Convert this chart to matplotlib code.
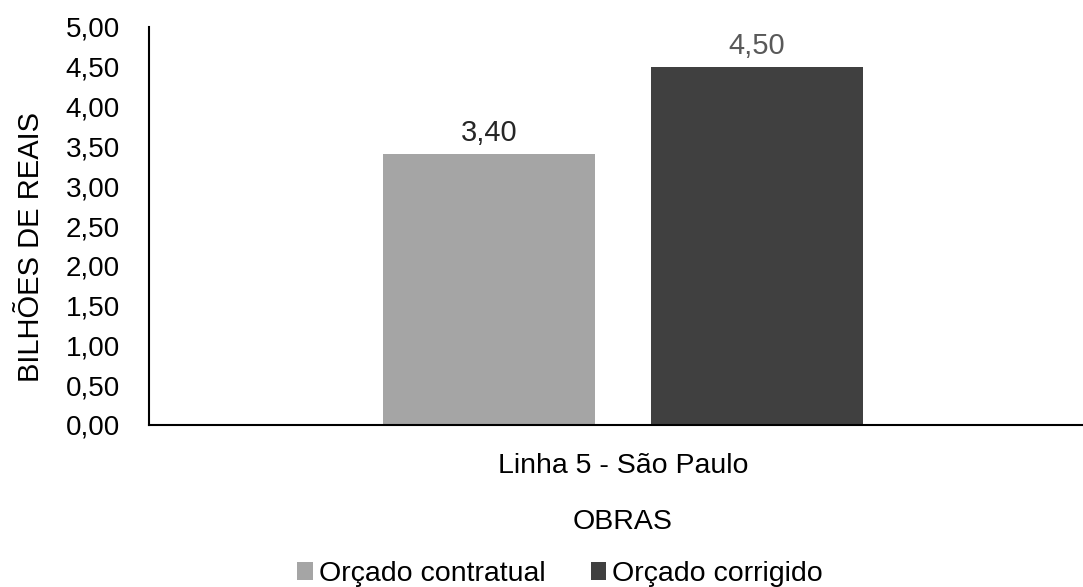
import matplotlib.pyplot as plt
from matplotlib.ticker import FixedLocator

plt.rcParams['font.family'] = ['Liberation Sans', 'DejaVu Sans']

categoria = "Linha 5 - São Paulo"
series = ["Orçado contratual", "Orçado corrigido"]
valores = [3.40, 4.50]
cores = ["#A5A5A5", "#404040"]
cores_rotulo = ["#262626", "#595959"]
yticks = [0, 0.5, 1, 1.5, 2, 2.5, 3, 3.5, 4, 4.5, 5]

fig = plt.figure(figsize=(10.83, 5.87), dpi=100)
ax = fig.add_axes([149/1083, 1 - 425/587, 948/1083, 398/587])

largura = 0.2236
offsets = [-0.1413, 0.1413]
barras = []
for i in range(len(series)):
    b = ax.bar(offsets[i], valores[i], width=largura, color=cores[i], label=series[i])
    barras.append(b)
    # rotulo de dados no formato brasileiro
    ax.annotate(f"{valores[i]:.2f}".replace(".", ","), (offsets[i], valores[i]),
                xytext=(0, 5), textcoords="offset points", ha="center", va="bottom",
                fontsize=21, color=cores_rotulo[i])

ax.set_xlim(-0.5, 0.5)
ax.set_ylim(0, 5)
ax.yaxis.set_major_locator(FixedLocator(yticks))
ax.set_yticklabels([f"{v:.2f}".replace(".", ",") for v in yticks], fontsize=20)
ax.set_xticks([0])
ax.set_xticklabels([categoria], fontsize=20.5)
ax.tick_params(axis="y", length=0, pad=21)
ax.tick_params(axis="x", length=0, pad=20)

for s in ["top", "right"]:
    ax.spines[s].set_visible(False)
for s in ["left", "bottom"]:
    ax.spines[s].set_linewidth(1.5)
    ax.spines[s].set_color("black")

ax.set_xlabel("OBRAS", fontsize=20.5, labelpad=22)
ax.set_ylabel("BILHÕES DE REAIS", fontsize=21)
ax.yaxis.set_label_coords(-0.11, 0.447)

fig.legend(handles=[b[0] for b in barras], labels=series, loc="center", ncol=2,
           bbox_to_anchor=(560/1083, 1 - 574/587), frameon=False, fontsize=20.5,
           handlelength=0.55, handleheight=0.55, handletextpad=0.2, columnspacing=1.6)

plt.savefig("out.png", dpi=100)
